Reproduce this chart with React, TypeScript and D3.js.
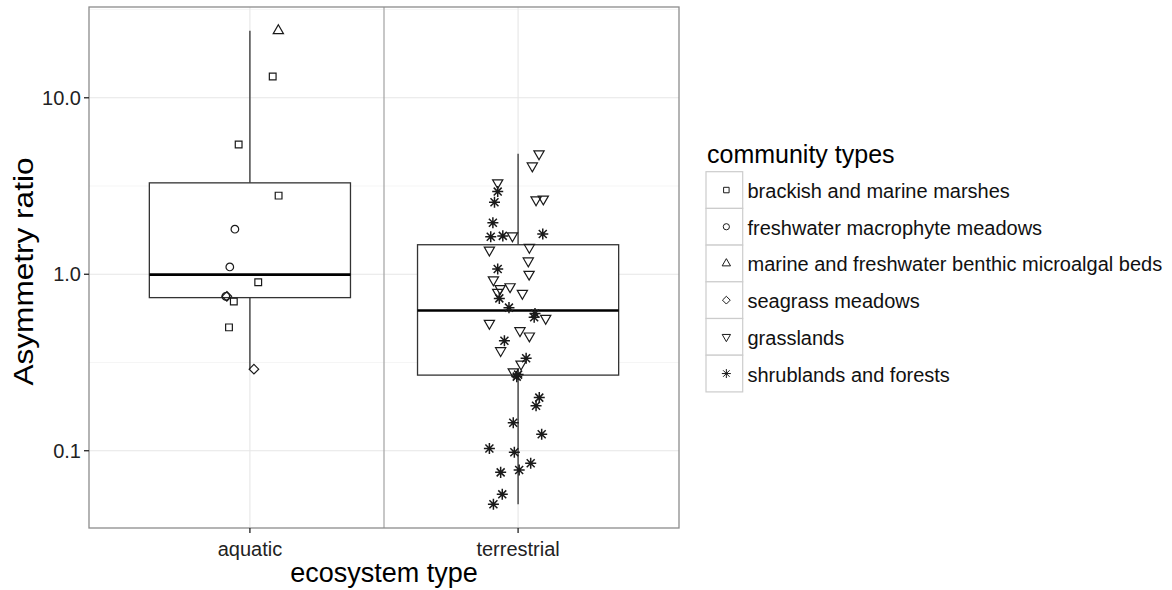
import React from "react";
import * as d3 from "d3";

// ---------- data ----------
const ecosystems = ["aquatic", "terrestrial"];
const communityTypes = [
  "brackish and marine marshes",
  "freshwater macrophyte meadows",
  "marine and freshwater benthic microalgal beds",
  "seagrass meadows",
  "grasslands",
  "shrublands and forests",
];
const communityShapes = ["square", "circle", "triangle", "diamond", "triangleDown", "asterisk"];
const communityEcosystem = ["aquatic", "aquatic", "aquatic", "aquatic", "terrestrial", "terrestrial"];

// values (asymmetry ratio) and horizontal jitter (category units) per community type
const brackishValues = [13.2, 5.43, 2.79, 0.9, 0.7, 0.5];
const brackishJitter = [0.085, -0.042, 0.107, 0.031, -0.06, -0.078];
const macrophyteValues = [1.8, 1.1, 0.75];
const macrophyteJitter = [-0.056, -0.075, -0.09];
const microalgalValues = [24];
const microalgalJitter = [0.106];
const seagrassValues = [0.75, 0.29];
const seagrassJitter = [-0.086, 0.015];
const grasslandValues = [
  4.81, 4.11, 3.3, 2.64, 2.67, 1.65, 1.37, 1.42, 1.19, 1.0, 0.93, 0.83, 0.85, 0.79, 0.78,
  0.563, 0.527, 0.479, 0.447, 0.369, 0.31, 0.28,
];
const grasslandJitter = [
  0.078, 0.053, -0.076, 0.067, 0.094, -0.021, -0.107, 0.042, 0.038, 0.041, -0.092, -0.067,
  -0.03, -0.076, 0.016, 0.103, -0.107, 0.007, 0.042, -0.065, 0.011, -0.018,
];
const shrublandValues = [
  2.94, 2.56, 1.96, 1.63, 1.65, 1.69, 1.07, 0.73, 0.647, 0.6, 0.57, 0.42, 0.334, 0.263, 0.27,
  0.2, 0.18, 0.144, 0.124, 0.103, 0.098, 0.085, 0.0754, 0.0777, 0.0566, 0.0497,
];
const shrublandJitter = [
  -0.076, -0.088, -0.094, -0.102, -0.057, 0.092, -0.076, -0.07, -0.034, 0.063, 0.06, -0.051,
  0.03, -0.005, 0.0, 0.079, 0.067, -0.018, 0.088, -0.107, -0.014, 0.047, -0.065, 0.004,
  -0.059, -0.092,
];
const communityValues = [brackishValues, macrophyteValues, microalgalValues, seagrassValues, grasslandValues, shrublandValues];
const communityJitter = [brackishJitter, macrophyteJitter, microalgalJitter, seagrassJitter, grasslandJitter, shrublandJitter];

const yTicks = [0.1, 1, 10];
const yTickLabels = ["0.1", "1.0", "10.0"];

const xTitle = "ecosystem type";
const yTitle = "Asymmetry ratio";
const legendTitle = "community types";

// ---------- layout ----------
const W = 1172;
const H = 590;
const panel = { left: 89, right: 679, top: 7, bottom: 528 };
const FONT = "'Liberation Sans', Arial, Helvetica, sans-serif";

function shapePath(shape: string, R: number): string {
  const p = d3.path();
  if (shape === "square") {
    const s = 0.886 * R;
    p.rect(-s, -s, 2 * s, 2 * s);
  } else if (shape === "circle") {
    p.arc(0, 0, R, 0, 2 * Math.PI);
    p.closePath();
  } else if (shape === "triangle" || shape === "triangleDown") {
    const r = 1.555 * R;
    const xc = r * 0.866;
    const yc = r / 2;
    const sgn = shape === "triangle" ? 1 : -1;
    p.moveTo(0, -sgn * r);
    p.lineTo(xc, sgn * yc);
    p.lineTo(-xc, sgn * yc);
    p.closePath();
  } else if (shape === "diamond") {
    const d = 1.253 * R;
    p.moveTo(0, -d);
    p.lineTo(d, 0);
    p.lineTo(0, d);
    p.lineTo(-d, 0);
    p.closePath();
  } else if (shape === "asterisk") {
    const a = 1.45 * R;
    const b = 1.05 * R;
    p.moveTo(-a, 0);
    p.lineTo(a, 0);
    p.moveTo(0, -a);
    p.lineTo(0, a);
    p.moveTo(-b, -b);
    p.lineTo(b, b);
    p.moveTo(-b, b);
    p.lineTo(b, -b);
  }
  return p.toString();
}

export default function App() {
  const points = communityTypes.flatMap((type, ti) =>
    communityValues[ti].map((v, i) => ({
      type,
      shape: communityShapes[ti],
      eco: communityEcosystem[ti],
      value: v,
      jitter: communityJitter[ti][i],
    }))
  );

  const allLogs = points.map((d) => Math.log10(d.value));
  const lo = d3.min(allLogs)!;
  const hi = d3.max(allLogs)!;
  const pad = (hi - lo) * 0.05;
  const y = d3
    .scaleLog()
    .domain([Math.pow(10, lo - pad), Math.pow(10, hi + pad)])
    .range([panel.bottom, panel.top]);

  const x = d3.scaleLinear().domain([0.4, ecosystems.length + 0.6]).range([panel.left, panel.right]);
  const bandW = x(1) - x(0);

  // minor breaks at log midpoints between majors (as in ggplot)
  const majorLogs = yTicks.map((t) => Math.log10(t));
  const minorLogs: number[] = [];
  const ext = [majorLogs[0] - 1, ...majorLogs, majorLogs[majorLogs.length - 1] + 1];
  for (let i = 0; i < ext.length - 1; i++) minorLogs.push((ext[i] + ext[i + 1]) / 2);
  const minorVis = minorLogs.filter((m) => m > lo - pad && m < hi + pad);

  const boxes = ecosystems.map((eco, ei) => {
    const logs = points
      .filter((d) => d.eco === eco)
      .map((d) => Math.log10(d.value))
      .sort(d3.ascending);
    const q1 = d3.quantile(logs, 0.25)!;
    const med = d3.quantile(logs, 0.5)!;
    const q3 = d3.quantile(logs, 0.75)!;
    const iqr = q3 - q1;
    const wlo = d3.min(logs.filter((l) => l >= q1 - 1.5 * iqr))!;
    const whi = d3.max(logs.filter((l) => l <= q3 + 1.5 * iqr))!;
    const p = (l: number) => y(Math.pow(10, l));
    return { eco, cx: x(ei + 1), q1: p(q1), med: p(med), q3: p(q3), wlo: p(wlo), whi: p(whi) };
  });

  const boxHalf = bandW * 0.75 / 2;
  const R = 3.8;
  const legendKey = 36.7;
  const legendLeft = 706;
  const legendTop = 171.7;

  return (
    <svg width={W} height={H} style={{ display: "block", position: "absolute", left: 0, top: 0 }} fontFamily={FONT}>
      <rect x={0} y={0} width={W} height={H} fill="#fff" />
      {/* grid */}
      {minorVis.map((m, i) => (
        <line key={"mn" + i} x1={panel.left} x2={panel.right} y1={y(Math.pow(10, m))} y2={y(Math.pow(10, m))} stroke="#f5f5f5" strokeWidth={1} />
      ))}
      {yTicks.map((t, i) => (
        <line key={"mj" + i} x1={panel.left} x2={panel.right} y1={y(t)} y2={y(t)} stroke="#e6e6e6" strokeWidth={1.1} />
      ))}
      {ecosystems.map((e, i) => (
        <line key={"vx" + i} x1={x(i + 1)} x2={x(i + 1)} y1={panel.top} y2={panel.bottom} stroke="#e6e6e6" strokeWidth={1.1} />
      ))}
      {/* divider between ecosystem types */}
      <line x1={x(1.5)} x2={x(1.5)} y1={panel.top} y2={panel.bottom} stroke="#a9a9a9" strokeWidth={1.3} />
      {/* boxplots */}
      {boxes.map((b) => (
        <g key={b.eco} stroke="#333" fill="none">
          <line x1={b.cx} x2={b.cx} y1={b.q3} y2={b.whi} strokeWidth={1.3} />
          <line x1={b.cx} x2={b.cx} y1={b.q1} y2={b.wlo} strokeWidth={1.3} />
          <rect x={b.cx - boxHalf} y={b.q3} width={boxHalf * 2} height={b.q1 - b.q3} fill="#fff" strokeWidth={1.3} />
          <line x1={b.cx - boxHalf} x2={b.cx + boxHalf} y1={b.med} y2={b.med} stroke="#000" strokeWidth={2.6} />
        </g>
      ))}
      {/* points */}
      {points.map((d, i) => {
        const ei = ecosystems.indexOf(d.eco);
        const px = x(ei + 1 + d.jitter);
        const py = y(d.value);
        return (
          <path
            key={"p" + i}
            d={shapePath(d.shape, R)}
            transform={`translate(${px},${py})`}
            fill="none"
            stroke="#1a1a1a"
            strokeWidth={d.shape === "asterisk" ? 1.5 : 1.2}
          />
        );
      })}
      {/* panel border */}
      <rect x={panel.left} y={panel.top} width={panel.right - panel.left} height={panel.bottom - panel.top} fill="none" stroke="#8c8c8c" strokeWidth={1.3} />
      {/* y axis */}
      {yTicks.map((t, i) => (
        <g key={"yt" + i}>
          <line x1={panel.left - 5} x2={panel.left} y1={y(t)} y2={y(t)} stroke="#222" strokeWidth={1.3} />
          <text x={panel.left - 8} y={y(t) + 7} textAnchor="end" fontSize={20} fill="#222">
            {yTickLabels[i]}
          </text>
        </g>
      ))}
      {/* x axis */}
      {ecosystems.map((e, i) => (
        <g key={"xt" + i}>
          <line x1={x(i + 1)} x2={x(i + 1)} y1={panel.bottom} y2={panel.bottom + 5} stroke="#222" strokeWidth={1.3} />
          <text x={x(i + 1)} y={556} textAnchor="middle" fontSize={20} fill="#222">
            {e}
          </text>
        </g>
      ))}
      <text x={(panel.left + panel.right) / 2} y={582} textAnchor="middle" fontSize={27} fill="#000">
        {xTitle}
      </text>
      <text
        transform={`translate(33,${(panel.top + panel.bottom) / 2 + 4}) rotate(-90)`}
        textAnchor="middle"
        fontSize={27}
        textLength={228}
        lengthAdjust="spacingAndGlyphs"
        fill="#000"
      >
        {yTitle}
      </text>
      {/* legend */}
      <text x={707} y={163} fontSize={25} fill="#000">
        {legendTitle}
      </text>
      {communityTypes.map((t, i) => {
        const ky = legendTop + i * legendKey;
        return (
          <g key={"lg" + i}>
            <rect x={legendLeft} y={ky} width={legendKey} height={legendKey} fill="#fff" stroke="#cccccc" strokeWidth={1.2} />
            <path
              d={shapePath(communityShapes[i], 3.1)}
              transform={`translate(${legendLeft + legendKey / 2 + 2},${ky + legendKey / 2})`}
              fill="none"
              stroke="#1a1a1a"
              strokeWidth={1}
            />
            <text x={747.5} y={ky + legendKey / 2 + 8} fontSize={20} fill="#111">
              {t}
            </text>
          </g>
        );
      })}
    </svg>
  );
}
